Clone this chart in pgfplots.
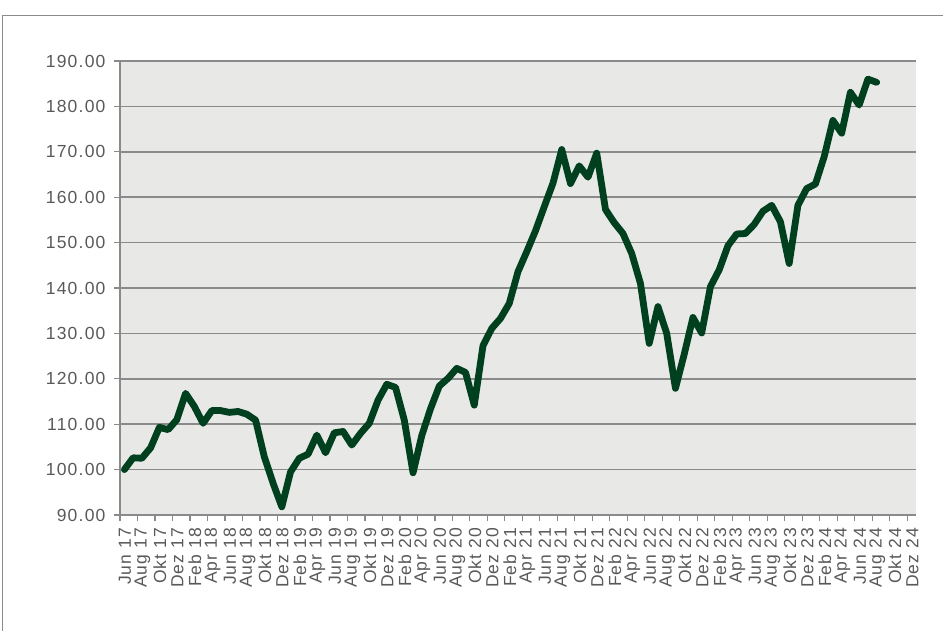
\documentclass[border=0pt]{standalone}
\usepackage{pgfplots}
\pgfplotsset{compat=1.18}
\usepackage{fontspec}
\setmainfont{Liberation Sans}
\newfontfamily\tickfont[LetterSpace=7]{Liberation Sans}
\definecolor{txt}{HTML}{595959}
\definecolor{gridc}{HTML}{8A8A8A}
\definecolor{bgc}{HTML}{E8E8E7}
\definecolor{lnc}{HTML}{00401F}
\definecolor{framec}{HTML}{8A8A8A}
\begin{document}
\begin{tikzpicture}[x=1pt,y=1pt]
\useasboundingbox (0,0) rectangle (943,630);
\begin{scope}
\clip (0,0) rectangle (943,630);
\draw[framec, line width=1.3pt] (2.5,-10) -- (2.5,614.5) -- (960,614.5);
\end{scope}
\begin{axis}[
  at={(120pt,115pt)}, anchor=south west,
  width=796pt, height=454pt, scale only axis,
  xmin=0, xmax=91, ymin=90, ymax=190,
  axis background/.style={fill=bgc},
  axis lines*=left,
  axis line style={gridc, line width=1.6pt},
  ymajorgrids, grid style={gridc, line width=1.6pt},
  ytick={90,100,...,190},
  xtick={0,2,...,90},
  xticklabels={Jun 17,Aug 17,Okt 17,Dez 17,Feb 18,Apr 18,Jun 18,Aug 18,Okt 18,Dez 18,Feb 19,Apr 19,Jun 19,Aug 19,Okt 19,Dez 19,Feb 20,Apr 20,Jun 20,Aug 20,Okt 20,Dez 20,Feb 21,Apr 21,Jun 21,Aug 21,Okt 21,Dez 21,Feb 22,Apr 22,Jun 22,Aug 22,Okt 22,Dez 22,Feb 23,Apr 23,Jun 23,Aug 23,Okt 23,Dez 23,Feb 24,Apr 24,Jun 24,Aug 24,Okt 24,Dez 24},
  tick align=outside, major tick length=6pt,
  tick style={gridc, line width=1.2pt},
  /pgf/number format/assume math mode=true,
  yticklabel={\pgfmathprintnumber[fixed,fixed zerofill,precision=2]{\tick}},
  ticklabel style={font=\tickfont\fontsize{17.5}{17.5}\selectfont, text=txt},
  yticklabel style={xshift=-5pt},
  xticklabel style={rotate=90, anchor=east, xshift=-3pt, yshift=-5pt},
  clip=false,
]
\addplot[lnc, line width=6.8pt, line join=round, line cap=round] table {
x y
0.5 100.0
1.5 102.6
2.5 102.5
3.5 104.8
4.5 109.3
5.5 108.8
6.5 111.0
7.5 116.8
8.5 113.9
9.5 110.2
10.5 113.0
11.5 113.0
12.5 112.6
13.5 112.8
14.5 112.2
15.5 110.9
16.5 102.8
17.5 97.0
18.5 91.8
19.5 99.5
20.5 102.5
21.5 103.4
22.5 107.6
23.5 103.7
24.5 108.1
25.5 108.4
26.5 105.4
27.5 108.0
28.5 110.2
29.5 115.3
30.5 118.8
31.5 118.1
32.5 110.9
33.5 99.3
34.5 107.5
35.5 113.4
36.5 118.4
37.5 120.1
38.5 122.3
39.5 121.4
40.5 114.2
41.5 127.3
42.5 131.1
43.5 133.3
44.5 136.6
45.5 143.6
46.5 148.0
47.5 152.6
48.5 157.9
49.5 163.1
50.5 170.5
51.5 163.0
52.5 166.9
53.5 164.4
54.5 169.7
55.5 157.3
56.5 154.4
57.5 152.0
58.5 147.6
59.5 141.0
60.5 127.8
61.5 135.9
62.5 130.0
63.5 117.9
64.5 125.4
65.5 133.5
66.5 130.1
67.5 140.3
68.5 144.0
69.5 149.3
70.5 151.9
71.5 152.0
72.5 154.0
73.5 156.9
74.5 158.2
75.5 154.6
76.5 145.4
77.5 158.2
78.5 161.9
79.5 162.9
80.5 168.9
81.5 176.9
82.5 174.1
83.5 183.1
84.5 180.3
85.5 186.0
86.5 185.3
};
\end{axis}
\end{tikzpicture}
\end{document}
